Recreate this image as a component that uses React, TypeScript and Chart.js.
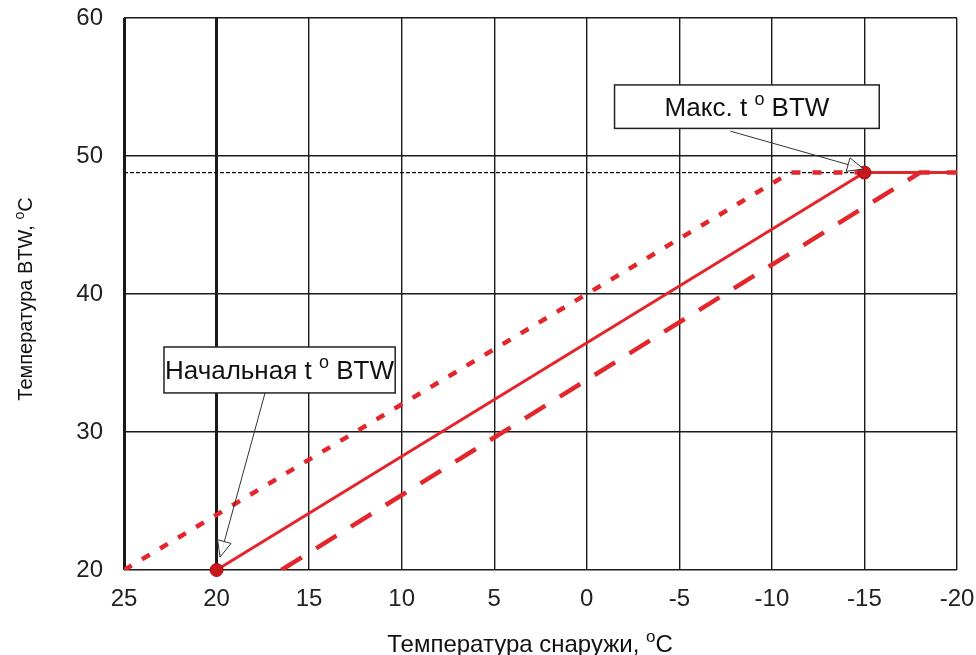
import React, { useEffect, useRef } from "react";
import { Chart, registerables } from "chart.js";

Chart.register(...registerables);

// ---- data ----
const xTicksMin = -20;
const xTicksMax = 25;
const yTicksMin = 20;
const yTicksMax = 60;
const maxFlow = 48.8; // max BTW temperature

const solidCurve = [
  { x: 20, y: 20 },
  { x: -15, y: maxFlow },
  { x: -20, y: maxFlow },
];
const dottedCurve = [
  { x: 25, y: 20 },
  { x: -11, y: maxFlow },
  { x: -15, y: maxFlow },
];
const dashedCurve = [
  { x: 16.5, y: 20 },
  { x: -18, y: maxFlow },
  { x: -20, y: maxFlow },
];
const markerPoints = [
  { x: 20, y: 20 },
  { x: -15, y: maxFlow },
];
const maxRefLine = [
  { x: 25, y: maxFlow },
  { x: -15, y: maxFlow },
];

const xTitle = ["Температура снаружи, ", "o", "C"];
const yTitle = ["Температура BTW, ", "o", "C"];

// annotation boxes (data coords) and arrows
const annotations = [
  {
    parts: ["Макс. t ", "o", " BTW"],
    box: { x1: -1.5, x2: -15.8, y1: 55.15, y2: 52.0 },
    align: "center",
    arrowFrom: { x: -7.76, y: 51.8 },
    arrowTo: { x: -14.95, y: 49.06 },
  },
  {
    parts: ["Начальная t ", "o", " BTW"],
    box: { x1: 22.84, x2: 10.35, y1: 36.16, y2: 32.83 },
    align: "left",
    arrowFrom: { x: 17.38, y: 32.83 },
    arrowTo: { x: 19.81, y: 20.94 },
  },
];

const RED = "#e3262b";
const FONT = '"Liberation Sans", Arial, sans-serif';

function drawRich(
  ctx: CanvasRenderingContext2D,
  parts: string[],
  x: number,
  y: number,
  size: number,
  align: string
) {
  const supSize = Math.round(size * 0.7);
  const widths = parts.map((p, i) => {
    ctx.font = `${i === 1 ? supSize : size}px ${FONT}`;
    return ctx.measureText(p).width;
  });
  const total = widths.reduce((a, b) => a + b, 0);
  let cx = align === "center" ? x - total / 2 : x;
  ctx.textAlign = "left";
  ctx.textBaseline = "alphabetic";
  parts.forEach((p, i) => {
    ctx.font = `${i === 1 ? supSize : size}px ${FONT}`;
    const dy = i === 1 ? -size * 0.42 : 0;
    ctx.fillText(p, cx, y + dy);
    cx += widths[i];
  });
}

const overlayPlugin = {
  id: "overlay",
  afterDraw(chart: any) {
    const ctx: CanvasRenderingContext2D = chart.ctx;
    const xs = chart.scales.x;
    const ys = chart.scales.y;
    ctx.save();
    ctx.fillStyle = "#111";
    // axis titles
    drawRich(ctx, xTitle, 530, 652, 24, "center");
    ctx.save();
    ctx.translate(32, 299);
    ctx.rotate(-Math.PI / 2);
    drawRich(ctx, yTitle, 0, 0, 20, "center");
    ctx.restore();

    annotations.forEach((a) => {
      const fx = xs.getPixelForValue(a.arrowFrom.x);
      const fy = ys.getPixelForValue(a.arrowFrom.y);
      const tx = xs.getPixelForValue(a.arrowTo.x);
      const ty = ys.getPixelForValue(a.arrowTo.y);
      ctx.strokeStyle = "#333";
      ctx.lineWidth = 1;
      ctx.beginPath();
      ctx.moveTo(fx, fy);
      ctx.lineTo(tx, ty);
      ctx.stroke();
      const ang = Math.atan2(ty - fy, tx - fx);
      const L = 16;
      const W = 7;
      const bx = tx - L * Math.cos(ang);
      const by = ty - L * Math.sin(ang);
      ctx.beginPath();
      ctx.moveTo(tx, ty);
      ctx.lineTo(bx + W * Math.sin(ang), by - W * Math.cos(ang));
      ctx.lineTo(bx - W * Math.sin(ang), by + W * Math.cos(ang));
      ctx.closePath();
      ctx.fillStyle = "rgba(255,255,255,0.85)";
      ctx.fill();
      ctx.stroke();

      const x1 = xs.getPixelForValue(a.box.x1);
      const x2 = xs.getPixelForValue(a.box.x2);
      const y1 = ys.getPixelForValue(a.box.y1);
      const y2 = ys.getPixelForValue(a.box.y2);
      ctx.fillStyle = "#fff";
      ctx.fillRect(x1, y1, x2 - x1, y2 - y1);
      ctx.strokeStyle = "#222";
      ctx.lineWidth = 1.5;
      ctx.strokeRect(x1, y1, x2 - x1, y2 - y1);
      ctx.fillStyle = "#111";
      const ty2 = (y1 + y2) / 2 + 9;
      if (a.align === "center") drawRich(ctx, a.parts, (x1 + x2) / 2, ty2, 26, "center");
      else drawRich(ctx, a.parts, x1 + 1, ty2, 26, "left");
    });
    ctx.restore();
  },
};

export default function App() {
  const ref = useRef<HTMLCanvasElement | null>(null);
  useEffect(() => {
    document.body.style.margin = "0";
    const chart = new Chart(ref.current as HTMLCanvasElement, {
      type: "line",
      data: {
        datasets: [
          {
            data: markerPoints,
            showLine: false,
            clip: false,
            pointRadius: 6.5,
            pointBackgroundColor: "#c8161b",
            pointBorderColor: "#a80f14",
            borderColor: "#c8161b",
          },
          {
            data: solidCurve,
            borderColor: RED,
            borderWidth: 3,
            pointRadius: 0,
          },
          {
            data: dottedCurve,
            borderColor: RED,
            borderWidth: 4.5,
            borderDash: [9, 12],
            pointRadius: 0,
          },
          {
            data: dashedCurve,
            borderColor: RED,
            borderWidth: 4.5,
            borderDash: [24, 17],
            pointRadius: 0,
          },
          {
            data: maxRefLine,
            borderColor: "#111",
            borderWidth: 1.3,
            borderDash: [4, 2],
            pointRadius: 0,
          },
        ],
      },
      options: {
        responsive: true,
        maintainAspectRatio: false,
        animation: false,
        layout: { padding: { top: 18, right: 19, left: 0, bottom: 0 } },
        plugins: {
          legend: { display: false },
          tooltip: { enabled: false },
          title: { display: false },
        },
        scales: {
          x: {
            type: "linear",
            reverse: true,
            min: xTicksMin,
            max: xTicksMax,
            ticks: {
              stepSize: 5,
              padding: 15,
              color: "#222",
              font: { family: FONT, size: 24 },
            },
            grid: {
              color: "#1a1a1a",
              lineWidth: (c: any) => (c.tick && (c.tick.value === 20 || c.tick.value === 25) ? 3 : 1.4),
              drawTicks: false,
            },
            border: { display: false },
            afterFit: (s: any) => {
              s.height = 85;
              s.paddingLeft = 0;
              s.paddingRight = 0;
            },
          },
          y: {
            type: "linear",
            min: yTicksMin,
            max: yTicksMax,
            ticks: {
              stepSize: 10,
              padding: 21,
              color: "#222",
              font: { family: FONT, size: 24 },
            },
            grid: {
              color: "#1a1a1a",
              lineWidth: 1.4,
              drawTicks: false,
            },
            border: { display: false },
            afterFit: (s: any) => {
              s.width = 124;
              s.paddingTop = 0;
              s.paddingBottom = 0;
            },
          },
        },
      },
      plugins: [overlayPlugin],
    });
    return () => chart.destroy();
  }, []);
  return (
    <div style={{ width: 976, height: 655, position: "relative" }}>
      <canvas ref={ref} />
    </div>
  );
}
